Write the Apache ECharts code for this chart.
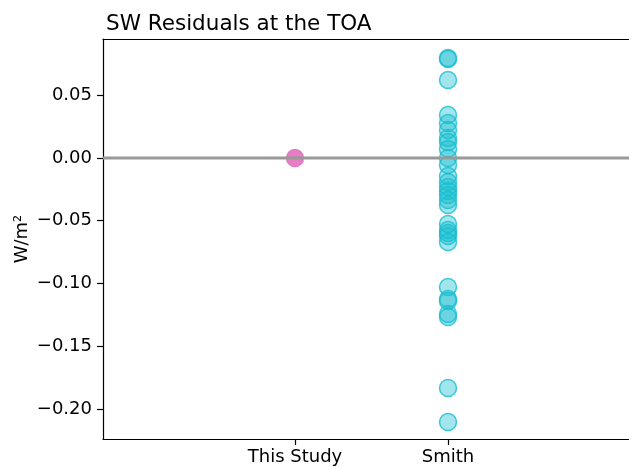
<!DOCTYPE html>
<html><head><meta charset="utf-8">
<script src="https://cdn.jsdelivr.net/npm/echarts@6/dist/echarts.min.js"></script>
<style>html,body{margin:0;padding:0;background:#fff}#c{width:629px;height:467px}</style>
</head><body><div id="c"></div>
<script>
const categories = ['This Study', 'Smith'];
const thisStudy = [0.0];
const smith = [0.0797, 0.0789, 0.0622, 0.0343, 0.0279, 0.0223, 0.0159, 0.0127, 0.0072, 0.0,
  -0.0056, -0.0143, -0.0191, -0.0231, -0.0263, -0.0295, -0.0335, -0.0375,
  -0.0526, -0.0574, -0.0598, -0.0622, -0.0669,
  -0.1028, -0.1124, -0.1139, -0.1243, -0.1267, -0.1833, -0.2104];
const yTicks = [-0.20, -0.15, -0.10, -0.05, 0.00, 0.05];

const font = 'DejaVu Sans';
const chart = echarts.init(document.getElementById('c'));
const fmt = v => (v < -1e-9 ? '\u2212' : '') + Math.abs(v).toFixed(2);
const XMIN = -1.255, XMAX = 2.183;
chart.setOption({
  animation: false,
  title: { text: 'SW Residuals at the TOA', left: 101, top: 8,
    textStyle: { fontFamily: font, fontSize: 21.5, fontWeight: 'normal', color: '#000' } },
  grid: { left: 103, right: 0, top: 39, bottom: 28, show: false, containLabel: false, outerBoundsMode: 'none' },
  xAxis: [{ type: 'value', min: XMIN, max: XMAX, splitLine: { show: false },
    axisLine: { show: true, onZero: false, lineStyle: { color: '#000', width: 1.2 } },
    axisTick: { show: true, length: 6, customValues: [0, 1], lineStyle: { color: '#000', width: 1.2 } },
    axisLabel: { customValues: [0, 1], formatter: v => categories[Math.round(v)], fontFamily: font, fontSize: 18, color: '#000', margin: 9 } },
   { type: 'value', position: 'top', min: XMIN, max: XMAX, splitLine: { show: false },
    axisLine: { show: true, onZero: false, lineStyle: { color: '#000', width: 1.2 } },
    axisTick: { show: false }, axisLabel: { show: false } }],
  yAxis: { type: 'value', min: -0.2240, max: 0.0949, splitLine: { show: false },
    name: 'W/m\u00b2', nameLocation: 'middle', nameGap: 72, nameRotate: 90, nameMoveOverlap: false,
    nameTextStyle: { fontFamily: font, fontSize: 18, color: '#000' },
    axisLine: { show: true, onZero: false, lineStyle: { color: '#000', width: 1.2 } },
    axisTick: { show: true, length: 6, customValues: yTicks, lineStyle: { color: '#000', width: 1.2 } },
    axisLabel: { customValues: yTicks, formatter: fmt, fontFamily: font, fontSize: 18, color: '#000', margin: 11 } },
  series: [
    { type: 'scatter', symbol: 'circle', symbolSize: 17, z: 2,
      data: thisStudy.map(v => [0, v]),
      itemStyle: { color: '#e377c2', borderColor: '#e377c2', borderWidth: 1.5, opacity: 0.95 } },
    { type: 'scatter', symbol: 'circle', symbolSize: 17, z: 2,
      data: smith.map(v => [1, v]),
      itemStyle: { color: 'rgba(23,190,207,0.5)', borderColor: '#17becf', borderWidth: 1.5 } },
    { type: 'line', z: 5, symbol: 'none', data: [[XMIN, 0], [XMAX, 0]],
      lineStyle: { color: '#999', width: 3 } }
  ]
});
</script></body></html>
